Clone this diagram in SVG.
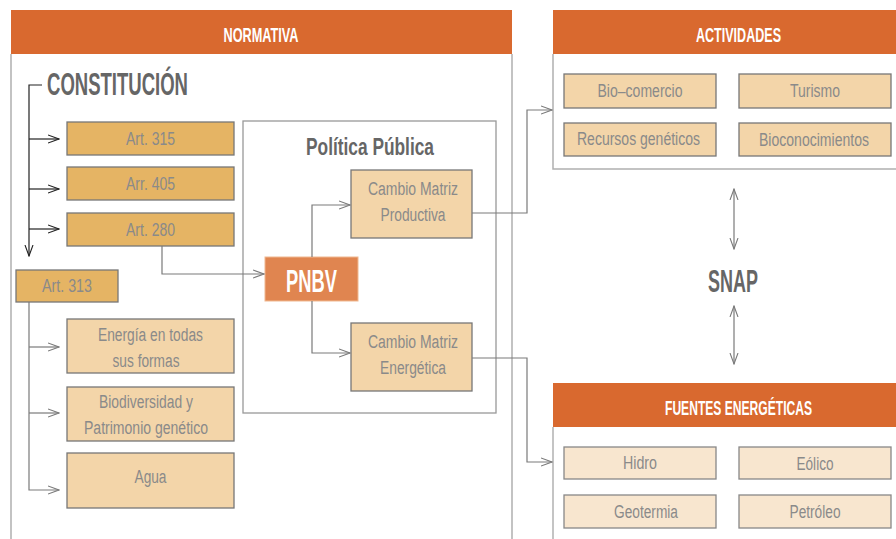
<svg xmlns="http://www.w3.org/2000/svg" width="896" height="539" viewBox="0 0 896 539">
<defs>
<marker id="ahg" viewBox="0 0 12 10" refX="11" refY="5" markerWidth="12" markerHeight="10" markerUnits="userSpaceOnUse" orient="auto-start-reverse">
<path d="M0,1 L11,5 L0,9" fill="none" stroke="#7a7a7a" stroke-width="1.1"/>
</marker>
<marker id="ahk" viewBox="0 0 12 10" refX="11" refY="5" markerWidth="12" markerHeight="10" markerUnits="userSpaceOnUse" orient="auto-start-reverse">
<path d="M0,1 L11,5 L0,9" fill="none" stroke="#222" stroke-width="1.1"/>
</marker>
</defs>
<style>
text{font-family:"Liberation Sans Narrow","Liberation Sans",sans-serif;}
.hdr{fill:#d9692f;}
.hdrt{fill:#fff;font-weight:bold;font-size:20px;text-anchor:middle;}
.panel{fill:none;stroke:#b0b0b0;stroke-width:1.5;}
.art{fill:#e5b464;stroke:#777;stroke-width:1.3;}
.lt{fill:#f3d5a9;stroke:#777;stroke-width:1.3;}
.lt2{fill:#f8e6cf;stroke:#888;stroke-width:1.3;}
.bt{fill:#8a8a8a;font-size:18px;text-anchor:middle;}
.big{fill:#666;font-weight:bold;}
.ck{fill:none;stroke:#222;stroke-width:1.2;}
.cg{fill:none;stroke:#7a7a7a;stroke-width:1.2;}
</style>
<rect width="896" height="539" fill="#fff"/>

<g id="normativa">
<rect class="hdr" x="11" y="10" width="501" height="44"/>
<text class="hdrt" x="261" y="42" textLength="75" lengthAdjust="spacingAndGlyphs">NORMATIVA</text>
<path class="panel" d="M11,54 V539 M512,54 V539"/>
</g>

<g id="constitucion">
<text class="big" x="47" y="95" font-size="31" textLength="141" lengthAdjust="spacingAndGlyphs">CONSTITUCIÓN</text>
</g>

<g id="art315"><rect class="art" x="67" y="122" width="167" height="33"/><text class="bt" x="150.5" y="145" textLength="49" lengthAdjust="spacingAndGlyphs">Art. 315</text></g>
<g id="arr405"><rect class="art" x="67" y="167" width="167" height="33"/><text class="bt" x="150.5" y="190" textLength="49" lengthAdjust="spacingAndGlyphs">Arr. 405</text></g>
<g id="art280"><rect class="art" x="67" y="213" width="167" height="33"/><text class="bt" x="150.5" y="236" textLength="49" lengthAdjust="spacingAndGlyphs">Art. 280</text></g>
<g id="art313"><rect class="art" x="16" y="270" width="102" height="32"/><text class="bt" x="67" y="292" textLength="50" lengthAdjust="spacingAndGlyphs">Art. 313</text></g>

<g id="energia"><rect class="lt" x="67" y="319" width="167" height="54"/><text class="bt" x="150.5" y="341" textLength="105" lengthAdjust="spacingAndGlyphs">Energía en todas</text><text class="bt" x="146" y="367" textLength="67" lengthAdjust="spacingAndGlyphs">sus formas</text></g>
<g id="biodiversidad"><rect class="lt" x="67" y="387" width="167" height="54"/><text class="bt" x="146" y="408" textLength="94" lengthAdjust="spacingAndGlyphs">Biodiversidad y</text><text class="bt" x="146" y="434" textLength="124" lengthAdjust="spacingAndGlyphs">Patrimonio genético</text></g>
<g id="agua"><rect class="lt" x="67" y="453" width="167" height="55"/><text class="bt" x="150.5" y="483" textLength="32" lengthAdjust="spacingAndGlyphs">Agua</text></g>

<g id="politica">
<rect fill="none" stroke="#999" stroke-width="1.3" x="243" y="121" width="253" height="292"/>
<text class="big" x="370" y="155" font-size="24" text-anchor="middle" textLength="128" lengthAdjust="spacingAndGlyphs">Política Pública</text>
</g>

<g id="pnbv"><rect fill="#e08550" stroke="#f0b890" stroke-width="1" x="265" y="257" width="93" height="44"/><text x="311.5" y="292" fill="#fff" font-weight="bold" font-size="32" text-anchor="middle" textLength="51" lengthAdjust="spacingAndGlyphs">PNBV</text></g>

<g id="productiva"><rect class="lt" x="351" y="170" width="121" height="68"/><text class="bt" x="413" y="195" textLength="90" lengthAdjust="spacingAndGlyphs">Cambio Matriz</text><text class="bt" x="413" y="221" textLength="65" lengthAdjust="spacingAndGlyphs">Productiva</text></g>
<g id="energetica"><rect class="lt" x="351" y="323" width="121" height="68"/><text class="bt" x="413" y="348" textLength="90" lengthAdjust="spacingAndGlyphs">Cambio Matriz</text><text class="bt" x="413" y="374" textLength="66" lengthAdjust="spacingAndGlyphs">Energética</text></g>

<g id="actividades">
<rect class="hdr" x="553" y="10" width="343" height="44"/>
<text class="hdrt" x="738.5" y="42" textLength="85" lengthAdjust="spacingAndGlyphs">ACTIVIDADES</text>
<path class="panel" d="M553,54 V169 H896"/>
</g>
<g id="biocomercio"><rect class="lt" x="564" y="74" width="152" height="34"/><text class="bt" x="640" y="97" textLength="85" lengthAdjust="spacingAndGlyphs">Bio–comercio</text></g>
<g id="turismo"><rect class="lt" x="739" y="74" width="152" height="34"/><text class="bt" x="815" y="97" textLength="50" lengthAdjust="spacingAndGlyphs">Turismo</text></g>
<g id="recursos"><rect class="lt" x="564" y="123" width="152" height="33"/><text class="bt" x="638.5" y="145" textLength="123" lengthAdjust="spacingAndGlyphs">Recursos genéticos</text></g>
<g id="bioconocimientos"><rect class="lt" x="739" y="123" width="152" height="33"/><text class="bt" x="814" y="146" textLength="110" lengthAdjust="spacingAndGlyphs">Bioconocimientos</text></g>

<g id="snap"><text class="big" x="733" y="292" font-size="31" text-anchor="middle" textLength="50" lengthAdjust="spacingAndGlyphs">SNAP</text></g>

<g id="fuentes">
<rect class="hdr" x="553" y="383" width="343" height="44"/>
<text class="hdrt" x="738.5" y="415" textLength="147" lengthAdjust="spacingAndGlyphs">FUENTES ENERGÉTICAS</text>
<path class="panel" d="M553,427 V539"/>
</g>
<g id="hidro"><rect class="lt2" x="564" y="447" width="152" height="32"/><text class="bt" x="640" y="469" textLength="34" lengthAdjust="spacingAndGlyphs">Hidro</text></g>
<g id="eolico"><rect class="lt2" x="739" y="447" width="152" height="32"/><text class="bt" x="815" y="470" textLength="37" lengthAdjust="spacingAndGlyphs">Eólico</text></g>
<g id="geotermia"><rect class="lt2" x="564" y="495" width="152" height="33"/><text class="bt" x="646" y="518" textLength="64" lengthAdjust="spacingAndGlyphs">Geotermia</text></g>
<g id="petroleo"><rect class="lt2" x="739" y="495" width="152" height="33"/><text class="bt" x="815" y="518" textLength="51" lengthAdjust="spacingAndGlyphs">Petróleo</text></g>

<g id="connectors">
<path class="ck" d="M42,85 H29 V256" marker-end="url(#ahk)"/>
<path class="ck" d="M29,139 H59" marker-end="url(#ahk)"/>
<path class="ck" d="M29,189 H59" marker-end="url(#ahk)"/>
<path class="ck" d="M29,229 H59" marker-end="url(#ahk)"/>
<path class="cg" d="M29,302 V490 H59" marker-end="url(#ahg)"/>
<path class="cg" d="M29,347 H59" marker-end="url(#ahg)"/>
<path class="cg" d="M29,413 H59" marker-end="url(#ahg)"/>
<path class="cg" d="M162,246 V274 H264" marker-end="url(#ahg)"/>
<path class="cg" d="M312,257 V205 H350" marker-end="url(#ahg)"/>
<path class="cg" d="M312,301 V353 H350" marker-end="url(#ahg)"/>
<path class="cg" d="M472,213 H527 V110 H552" marker-end="url(#ahg)"/>
<path class="cg" d="M472,358 H527 V462 H552" marker-end="url(#ahg)"/>
<path class="cg" d="M734,189 V249" marker-start="url(#ahg)" marker-end="url(#ahg)"/>
<path class="cg" d="M734,306 V364" marker-start="url(#ahg)" marker-end="url(#ahg)"/>
</g>
</svg>
